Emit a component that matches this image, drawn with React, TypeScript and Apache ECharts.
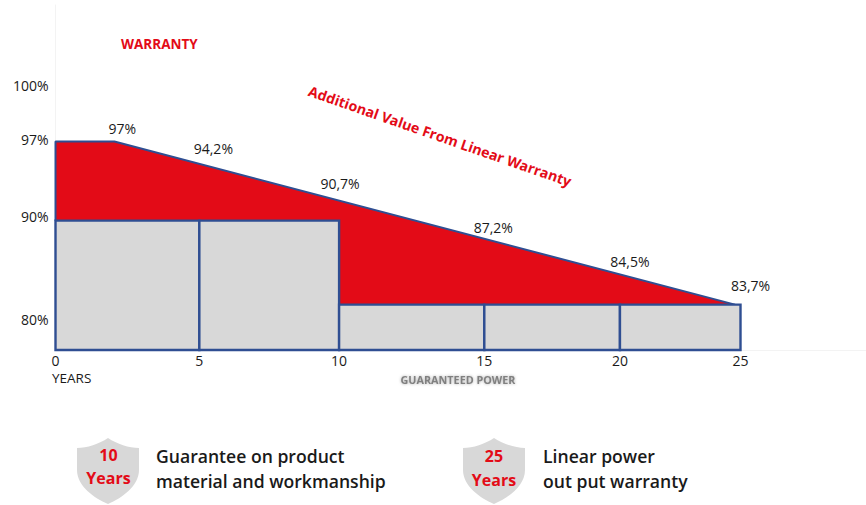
import React, { useEffect, useRef } from "react";
import * as echarts from "echarts";

// Axis units are read from the picture: the source drawing's scales are not linear.
const xTickLabels = ["0", "5", "10", "15", "20", "25"];
const xTickPositions = [0, 5.25, 10.35, 15.65, 20.6, 25];
const yTickLabels = ["100%", "97%", "90%", "80%"];
const yTickPositions = [101.55, 97.16, 90.9, 82.45];

const curveX = [0, 0, 2.15, 24.8];
const curveY = [90.55, 97, 97, 83.7];

const valueLabels = ["97%", "94,2%", "90,7%", "87,2%", "84,5%", "83,7%"];
const valueLabelX = [2.15, 5.25, 10.35, 15.65, 20.6, 25];
const valueLabelY = [97, 95.2, 92.2, 89.1, 86.15, 83.7];
const valueLabelOffsets = [[8, -13], [14, -15], [1, -17], [9, -11], [10, -13], [10, -19]];

const blockStart = [0, 5.25, 10.35, 15.65, 20.6];
const blockEnd = [5.25, 10.35, 15.65, 20.6, 25];
const blockTop = [90.55, 90.55, 83.7, 83.7, 83.7];

const FONT = "'Open Sans', sans-serif";
const BLUE = "#2f4e92";
const RED = "#e30b17";
const GREY = "#d8d8d8";
const INK = "#1a1a1a";

const SHIELD = "M31 0 C40 6 52 10 62 10 L62 32 C62 48 45 60 31 66 C17 60 0 48 0 32 L0 10 C10 10 22 6 31 0 Z";
echarts.graphic.registerShape("shield", echarts.graphic.extendPath(SHIELD, {}) as any);

const txt = (x: number, y: number, text: string, size: number, fill: string, weight: any = 400, align = "left", extra: any = {}) => ({
  type: "text",
  x,
  y,
  silent: true,
  ...extra,
  style: { text, x: 0, y: 0, fontFamily: FONT, fontSize: size, fontWeight: weight, fill, align, verticalAlign: "middle", ...(extra.style || {}) },
});

export default function App() {
  const ref = useRef<HTMLDivElement>(null);
  useEffect(() => {
    const chart = echarts.init(ref.current!, null, { renderer: "svg" });
    chart.setOption({
      animation: false,
      backgroundColor: "#ffffff",
      grid: { left: 55.5, top: 5, width: 810.5, height: 345, containLabel: false },
      xAxis: {
        type: "value",
        min: 0,
        max: 29.58,
        splitLine: { show: false },
        axisTick: { show: false },
        axisLine: { show: true, lineStyle: { color: "#f3f3f3", width: 1 } },
        axisLabel: {
          customValues: xTickPositions,
          margin: 3,
          fontFamily: FONT,
          fontSize: 14,
          color: INK,
          formatter: (v: number) => xTickLabels[xTickPositions.indexOf(v)] ?? "",
        },
      },
      yAxis: {
        type: "value",
        min: 80,
        max: 108.14,
        splitLine: { show: false },
        axisTick: { show: false },
        axisLine: { show: true, lineStyle: { color: "#f3f3f3", width: 1 } },
        axisLabel: {
          customValues: yTickPositions,
          margin: 7,
          fontFamily: FONT,
          fontSize: 14,
          color: INK,
          formatter: (v: number) => yTickLabels[yTickPositions.indexOf(v)] ?? "",
        },
      },
      series: [
        {
          type: "line",
          z: 2,
          symbol: "none",
          silent: true,
          data: curveX.map((x, i) => [x, curveY[i]]),
          lineStyle: { color: BLUE, width: 2 },
          areaStyle: { color: RED, opacity: 1, origin: "start" },
        },
        {
          type: "custom",
          z: 3,
          silent: true,
          data: blockStart.map((x, i) => [x, blockEnd[i], blockTop[i]]),
          encode: { x: [0, 1], y: 2 },
          renderItem: (_: any, api: any) => {
            const p0 = api.coord([api.value(0), api.value(2)]);
            const p1 = api.coord([api.value(1), 80]);
            return {
              type: "rect",
              shape: { x: p0[0], y: p0[1], width: p1[0] - p0[0], height: p1[1] - p0[1] },
              style: { fill: GREY, stroke: BLUE, lineWidth: 2.4 },
            };
          },
        },
        {
          type: "scatter",
          z: 4,
          silent: true,
          symbolSize: 0,
          itemStyle: { opacity: 1 },
          data: valueLabels.map((name, i) => ({
            name,
            value: [valueLabelX[i], valueLabelY[i]],
            label: { offset: valueLabelOffsets[i] },
          })),
          label: {
            show: true,
            position: "inside",
            formatter: "{b}",
            fontFamily: FONT,
            fontSize: 14,
            color: INK,
            opacity: 1,
          },
        },
      ],
      graphic: [
        txt(121, 44, "WARRANTY", 13.5, RED, 700),
        txt(440, 136, "Additional Value From Linear Warranty", 14.2, RED, 700, "center", { rotation: -0.335 }),
        txt(52, 378, "YEARS", 13.5, INK),
        txt(458, 379, "GUARANTEED POWER", 10.8, "#808080", 700, "center", {
          style: { textShadowBlur: 3, textShadowColor: "#aaaaaa" },
        }),
        { type: "shield", x: 77, y: 438, silent: true, style: { fill: GREY } },
        txt(108.5, 455, "10", 16, RED, 700, "center"),
        txt(108.5, 478, "Years", 16, RED, 700, "center"),
        txt(156, 455.5, "Guarantee on product", 17.6, INK, 600),
        txt(156, 481, "material and workmanship", 17.6, INK, 600),
        { type: "shield", x: 463, y: 438, silent: true, style: { fill: GREY } },
        txt(494, 456, "25", 16, RED, 700, "center"),
        txt(494, 480, "Years", 16, RED, 700, "center"),
        txt(543, 455.5, "Linear power", 17.6, INK, 600),
        txt(543, 481, "out put warranty", 17.6, INK, 600),
      ],
    });
    return () => chart.dispose();
  }, []);
  return <div ref={ref} style={{ position: "absolute", left: 0, top: 0, width: 866, height: 505 }} />;
}
